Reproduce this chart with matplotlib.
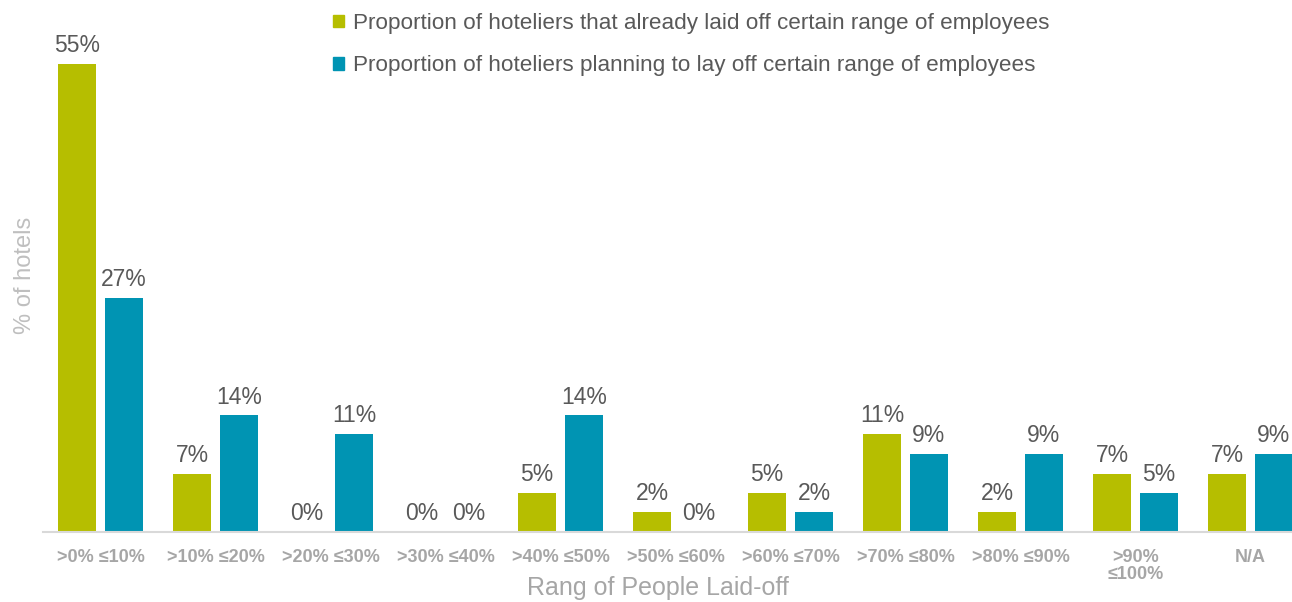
import numpy as np
import matplotlib.pyplot as plt
from matplotlib.patches import Patch

plt.rcParams['font.family'] = ['Liberation Sans', 'DejaVu Sans']

# =========================
# DATA
# =========================
categories = [">0% ≤10%", ">10% ≤20%", ">20% ≤30%", ">30% ≤40%", ">40% ≤50%",
              ">50% ≤60%", ">60% ≤70%", ">70% ≤80%", ">80% ≤90%", ">90%\n≤100%", "N/A"]
already = [54.6, 6.8, 0, 0, 4.6, 2.3, 4.6, 11.4, 2.3, 6.8, 6.8]
planning = [27.3, 13.6, 11.4, 0, 13.6, 0, 2.3, 9.1, 9.1, 4.6, 9.1]
series_names = ["Proportion of hoteliers that already laid off certain range of employees",
                "Proportion of hoteliers planning to lay off certain range of employees"]

GREEN = "#B6BE00"
BLUE = "#0094B3"
LABEL_GRAY = "#595959"
AXIS_GRAY = "#A6A6A6"

# =========================
# PLOT
# =========================
W, H = 1292, 602
fig = plt.figure(figsize=(W / 100, H / 100), dpi=100)
ax = fig.add_axes([43 / W, (H - 532) / H, 1265 / W, 532 / H])

x = np.arange(len(categories))
bw = 0.33
off = 0.204
b1 = ax.bar(x - off, already, bw, color=GREEN)
b2 = ax.bar(x + off, planning, bw, color=BLUE)

for bars, vals in [(b1, already), (b2, planning)]:
    for b, v in zip(bars, vals):
        ax.annotate(f"{int(v + 0.5)}%", (b.get_x() + b.get_width() / 2, v),
                    xytext=(0, 5), textcoords="offset points",
                    ha="center", va="bottom", fontsize=16.5, color=LABEL_GRAY)

ax.set_xlim(-0.5, len(categories) - 0.5)
ax.set_ylim(0, 62.1)
ax.set_yticks([])
ax.set_xticks(x)
ax.set_xticklabels(categories, fontsize=13, fontweight="bold", color=AXIS_GRAY,
                   linespacing=1.05)
ax.tick_params(axis="x", length=0, pad=12)
for s in ["top", "right", "left"]:
    ax.spines[s].set_visible(False)
ax.spines["bottom"].set_color("#D9D9D9")
ax.spines["bottom"].set_linewidth(1.5)

fig.text(658 / W, 1 - 588 / H, "Rang of People Laid-off", ha="center", va="center",
         fontsize=18, color=AXIS_GRAY)
fig.text(25 / W, 1 - 275 / H, "% of hotels", ha="center", va="center",
         rotation=90, fontsize=17, color="#BFBFBF")

handles = [Patch(color=GREEN), Patch(color=BLUE)]
fig.legend(handles, series_names, loc="upper left",
           bbox_to_anchor=(324 / W, 1 - 4 / H), frameon=False,
           fontsize=16.2, labelcolor=LABEL_GRAY, handlelength=0.5, handleheight=0.5,
           handletextpad=0.4, labelspacing=0.95, borderaxespad=0)

fig.savefig("out.png", dpi=100)
